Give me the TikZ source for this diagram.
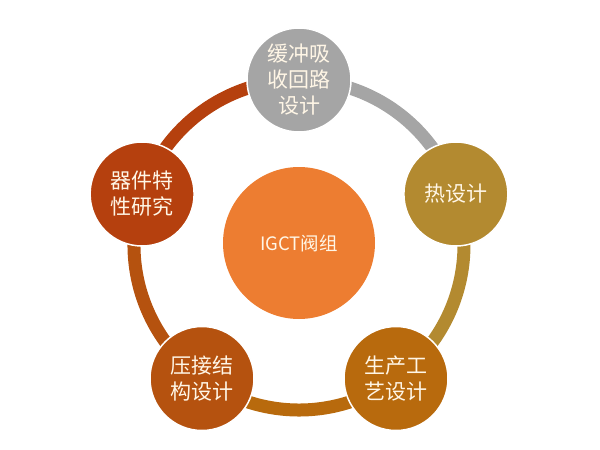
\documentclass[tikz,border=0pt]{standalone}
\usepackage{fontspec}
\newfontfamily\cjk{Noto Sans CJK SC}
\definecolor{cgray}{HTML}{A5A5A5}
\definecolor{cgold}{HTML}{B38A30}
\definecolor{cbrown}{HTML}{B86A0D}
\definecolor{cbl}{HTML}{B5520F}
\definecolor{cred}{HTML}{B5400E}
\definecolor{corange}{HTML}{ED7D31}
\definecolor{ctext}{HTML}{FFF6E6}
\begin{document}
\begin{tikzpicture}[x=1pt,y=-1pt,
  ringseg/.style={line width=13pt},
  outer/.style={circle,minimum size=104pt,inner sep=0pt,draw=white,line width=1.5pt,
    text=ctext,font=\cjk\fontsize{21}{26}\selectfont,align=center},
  inner/.style={circle,minimum size=152pt,inner sep=0pt,fill=corange,
    text=ctext,font=\cjk\fontsize{18.5}{22}\selectfont}]
\useasboundingbox (0,0) rectangle (600,450);
\coordinate (c) at (299,245);
\path (c) ++(0,-165) coordinate (p1)
      (c) ++(156.9,-51.0) coordinate (p2)
      (c) ++(97.0,133.5) coordinate (p3)
      (c) ++(-97.0,133.5) coordinate (p4)
      (c) ++(-156.9,-51.0) coordinate (p5);
\draw[ringseg,cgray] (p1) arc[start angle=90,end angle=18,radius=165pt];
\draw[ringseg,cgold] (p2) arc[start angle=18,end angle=-54,radius=165pt];
\draw[ringseg,cbrown] (p3) arc[start angle=-54,end angle=-126,radius=165pt];
\draw[ringseg,cbl] (p4) arc[start angle=-126,end angle=-198,radius=165pt];
\draw[ringseg,cred] (p5) arc[start angle=162,end angle=90,radius=165pt];
\node[outer,fill=cgray] (n1) at (p1) {缓冲吸\\收回路\\设计};
\node[outer,fill=cgold] (n2) at (p2) {热设计};
\node[outer,fill=cbrown] (n3) at (p3) {生产工\\艺设计};
\node[outer,fill=cbl] (n4) at (p4) {压接结\\构设计};
\node[outer,fill=cred] (n5) at (p5) {器件特\\性研究};
\node[inner] (ctr) at (299,243) {IGCT阀组};
\end{tikzpicture}
\end{document}
